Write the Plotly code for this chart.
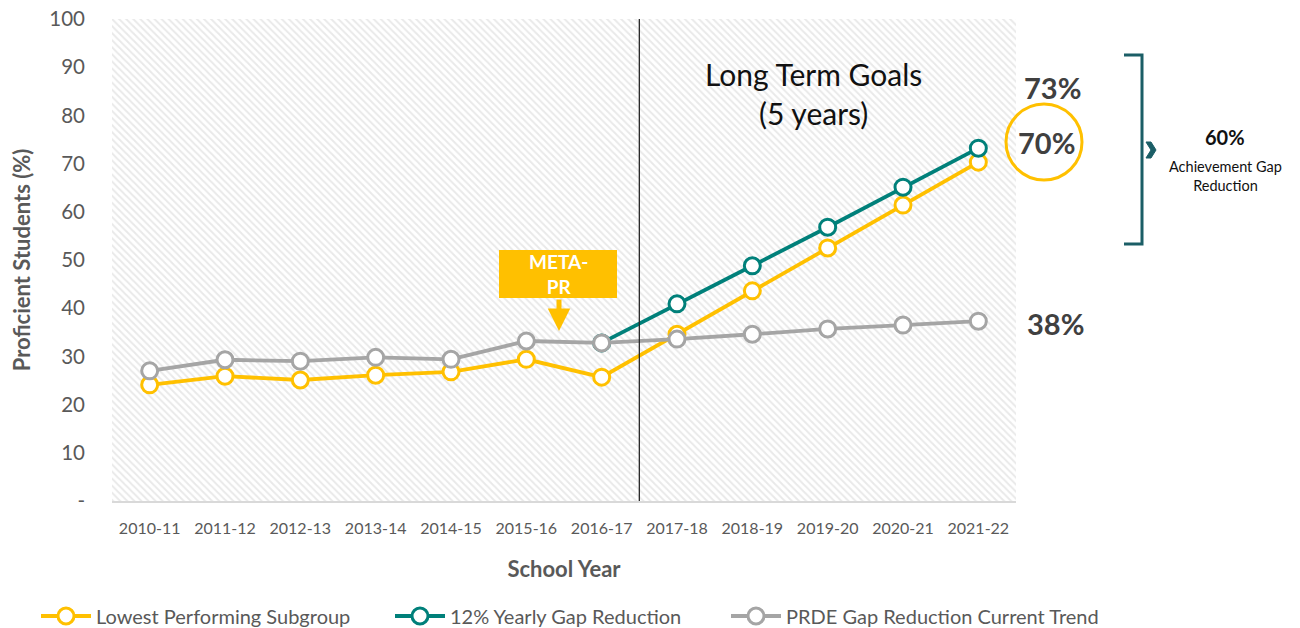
import plotly.graph_objects as go

years = ["2010-11", "2011-12", "2012-13", "2013-14", "2014-15", "2015-16",
         "2016-17", "2017-18", "2018-19", "2019-20", "2020-21", "2021-22"]
lowest = [24.1, 25.9, 25.1, 26.1, 26.8, 29.4, 25.7, 34.6, 43.6, 52.5, 61.4, 70.3]
gap12 = [None, None, None, None, None, None, 32.8, 40.9, 48.8, 56.8, 65.1, 73.2]
prde = [27.0, 29.3, 29.0, 29.8, 29.4, 33.2, 32.8, 33.6, 34.6, 35.7, 36.5, 37.3]
ytick_vals = [0, 10, 20, 30, 40, 50, 60, 70, 80, 90, 100]
ytick_text = ["-", "10", "20", "30", "40", "50", "60", "70", "80", "90", "100"]

YELLOW = "#FFC000"
TEAL = "#00807A"
GRAY = "#A5A5A5"
DARK_TEAL = "#1B5E66"
FONT = "Lato"

W, H = 1300, 628
OFF = 8  # page body margin, the figure lands 8px right/down
# plot area as seen on the page
L, R, T, B = 112, 1016, 19, 501


def px(x):
    return (x - L) / (R - L)


def py(y):
    return (B - y) / (B - T)


def cx(x):
    return (x - OFF) / W


def cy(y):
    return 1 - (y - OFF) / H


fig = go.Figure()

# hatched plot background on the base (hidden) axes; data sits on overlay axes
fig.add_trace(go.Scatter(
    x=[0, 1, 1, 0, 0], y=[0, 0, 1, 1, 0],
    mode="lines", line=dict(width=0), fill="toself", fillcolor="rgba(0,0,0,0)",
    fillpattern=dict(shape="\\", fgcolor="#d4d4d4", bgcolor="white", size=5, solidity=0.4),
    hoverinfo="skip", showlegend=False,
))


def series(name, vals, color, legend):
    return go.Scatter(
        x=years, y=vals, name=name, mode="lines+markers", xaxis="x2", yaxis="y2",
        line=dict(color=color, width=3.8), legend=legend,
        marker=dict(symbol="circle", size=16, color="white", line=dict(color=color, width=3)),
    )


fig.add_trace(series("Lowest Performing Subgroup", lowest, YELLOW, "legend"))
fig.add_trace(series("12% Yearly Gap Reduction", gap12, TEAL, "legend2"))
fig.add_trace(series("PRDE Gap Reduction Current Trend", prde, GRAY, "legend3"))

shapes = [
    # divider between history and goals
    dict(type="line", xref="x2", yref="paper", x0=6.5, x1=6.5, y0=0, y1=1.0,
         line=dict(color="#262626", width=1.3)),
    # circle around 70%
    dict(type="circle", xref="paper", yref="paper",
         x0=px(1006), x1=px(1082), y0=py(180), y1=py(104),
         line=dict(color=YELLOW, width=3)),
    # bracket
    dict(type="path", xref="paper", yref="paper",
         path=f"M {px(1124)} {py(55)} L {px(1142)} {py(55)} L {px(1142)} {py(244)} L {px(1124)} {py(244)}",
         line=dict(color=DARK_TEAL, width=3)),
    # chevron
    dict(type="path", xref="paper", yref="paper",
         path=(f"M {px(1146)} {py(142)} L {px(1151)} {py(142)} L {px(1156)} {py(150)} "
               f"L {px(1151)} {py(158)} L {px(1146)} {py(158)} L {px(1151)} {py(150)} Z"),
         fillcolor=DARK_TEAL, line=dict(color=DARK_TEAL, width=1)),
    # META-PR box
    dict(type="rect", xref="paper", yref="paper",
         x0=px(499), x1=px(617), y0=py(298), y1=py(250),
         fillcolor=YELLOW, line=dict(width=0)),
]


def note(x, y, text, size, color):
    return dict(x=px(x), y=py(y), xref="paper", yref="paper", showarrow=False,
                xanchor="center", yanchor="middle", text=text,
                font=dict(family=FONT, size=size, color=color))


annotations = [
    note(813, 93, "Long Term Goals<br>(5 years)", 30, "#111111"),
    note(1052, 87, "<b>73%</b>", 29, "#404040"),
    note(1046, 142, "<b>70%</b>", 29, "#404040"),
    note(1055, 323, "<b>38%</b>", 29, "#404040"),
    note(1225, 137, "<b>60%</b>", 20, "#111111"),
    note(1225, 176, "Achievement Gap<br>Reduction", 14.5, "#111111"),
    note(558, 274, "<b>META-<br>PR</b>", 19, "white"),
    # arrow from box to line
    dict(x=px(559), y=py(331), xref="paper", yref="paper", ax=0, ay=-33,
         showarrow=True, text="",
         arrowhead=2, arrowsize=0.9, arrowwidth=5, arrowcolor=YELLOW),
]


def legend_at(x):
    return dict(orientation="h", xref="container", yref="container",
                x=cx(x), y=cy(616), xanchor="left", yanchor="middle",
                font=dict(size=20, color="#595959"), itemwidth=50,
                bgcolor="rgba(0,0,0,0)")


fig.update_layout(
    width=W, height=H,
    paper_bgcolor="white", plot_bgcolor="rgba(0,0,0,0)",
    margin=dict(l=L - OFF, r=W - (R - OFF), t=T - OFF, b=H - (B - OFF)),
    font=dict(family=FONT, color="#595959"),
    shapes=shapes, annotations=annotations,
    xaxis=dict(range=[0, 1], visible=False, fixedrange=True),
    yaxis=dict(range=[0, 1], visible=False, fixedrange=True),
    xaxis2=dict(
        overlaying="x", side="bottom", automargin=False,
        type="category", range=[-0.5, 11.5], showgrid=False, zeroline=False,
        showline=True, linecolor="#d9d9d9", linewidth=2, ticks="", ticklabelstandoff=12,
        tickfont=dict(size=16, color="#595959"),
        title=dict(text="<b>School Year</b>", font=dict(size=22, color="#595959"), standoff=25),
    ),
    yaxis2=dict(
        overlaying="y", side="left", automargin=False, ticklabeloverflow="allow",
        range=[0, 100], tickvals=ytick_vals, ticktext=ytick_text, showgrid=False,
        zeroline=False, showline=False, ticks="", ticklabelstandoff=26,
        tickfont=dict(size=20.5, color="#595959"),
        title=dict(text="<b>Proficient Students (%)</b>", font=dict(size=22, color="#595959"), standoff=16),
    ),
    legend=legend_at(36),
    legend2=legend_at(390),
    legend3=legend_at(726),
    showlegend=True,
)

fig.write_html("out.html")
